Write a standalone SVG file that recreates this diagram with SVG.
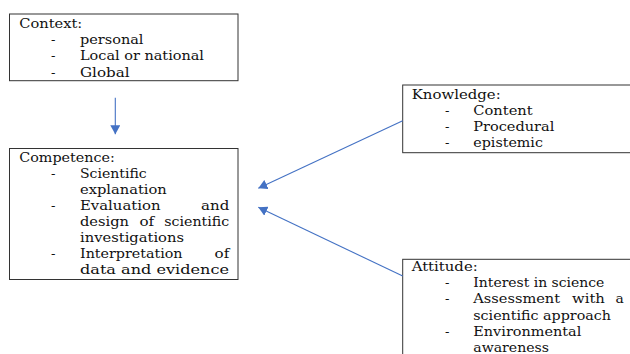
<svg xmlns="http://www.w3.org/2000/svg" width="630" height="354" viewBox="0 0 630 354">
<defs>
<style>
.box{fill:#fff;stroke:#333;stroke-width:1}
.t{font-family:"DejaVu Serif","Liberation Serif",serif;font-size:13px;fill:#111}
.conn{stroke:#4472C4;stroke-width:1.1;fill:none;marker-end:url(#ah)}
</style>
<marker id="ah" viewBox="0 0 9 10" refX="9" refY="5" markerWidth="9" markerHeight="10" markerUnits="userSpaceOnUse" orient="auto">
<path d="M0,0 L9,5 L0,10 z" fill="#4472C4"/>
</marker>
</defs>
<rect width="630" height="354" fill="#fff"/>

<g id="context">
<rect class="box" x="9.5" y="14" width="228.5" height="66.7"/>
<text class="t" x="19.3" y="27.8" textLength="63" lengthAdjust="spacingAndGlyphs">Context:</text>
<text class="t" x="51" y="44.1">-</text>
<text class="t" x="80" y="44.1" textLength="63.5" lengthAdjust="spacingAndGlyphs">personal</text>
<text class="t" x="51" y="60.4">-</text>
<text class="t" x="80" y="60.4" textLength="124" lengthAdjust="spacingAndGlyphs">Local or national</text>
<text class="t" x="51" y="76.7">-</text>
<text class="t" x="80" y="76.7" textLength="49.5" lengthAdjust="spacingAndGlyphs">Global</text>
</g>

<g id="competence">
<rect class="box" x="9.5" y="148.5" width="228.5" height="131"/>
<text class="t" x="19.3" y="161.5" textLength="95.5" lengthAdjust="spacingAndGlyphs">Competence:</text>
<text class="t" x="51" y="177.5">-</text>
<text class="t" x="80" y="177.5" textLength="66.7" lengthAdjust="spacingAndGlyphs">Scientific</text>
<text class="t" x="80" y="193.5" textLength="86.8" lengthAdjust="spacingAndGlyphs">explanation</text>
<text class="t" x="51" y="209.5">-</text>
<text class="t" x="80" y="209.5" textLength="80.5" lengthAdjust="spacingAndGlyphs">Evaluation</text>
<text class="t" x="201.1" y="209.5" textLength="28.2" lengthAdjust="spacingAndGlyphs">and</text>
<text class="t" x="80" y="225.5" textLength="49" lengthAdjust="spacingAndGlyphs">design</text>
<text class="t" x="139.5" y="225.5" textLength="14.7" lengthAdjust="spacingAndGlyphs">of</text>
<text class="t" x="164.3" y="225.5" textLength="65" lengthAdjust="spacingAndGlyphs">scientific</text>
<text class="t" x="80" y="241.5" textLength="104" lengthAdjust="spacingAndGlyphs">investigations</text>
<text class="t" x="51" y="257.5">-</text>
<text class="t" x="80" y="257.5" textLength="102.5" lengthAdjust="spacingAndGlyphs">Interpretation</text>
<text class="t" x="214.6" y="257.5" textLength="14.7" lengthAdjust="spacingAndGlyphs">of</text>
<text class="t" x="80" y="273.5" textLength="149" lengthAdjust="spacingAndGlyphs">data and evidence</text>
</g>

<g id="knowledge">
<rect class="box" x="402.7" y="85" width="240" height="67.7"/>
<text class="t" x="411.7" y="98.5" textLength="89" lengthAdjust="spacingAndGlyphs">Knowledge:</text>
<text class="t" x="445" y="114.5">-</text>
<text class="t" x="473.3" y="114.5" textLength="59.4" lengthAdjust="spacingAndGlyphs">Content</text>
<text class="t" x="445" y="130.5">-</text>
<text class="t" x="473.3" y="130.5" textLength="81" lengthAdjust="spacingAndGlyphs">Procedural</text>
<text class="t" x="445" y="146.5">-</text>
<text class="t" x="473.3" y="146.5" textLength="69.6" lengthAdjust="spacingAndGlyphs">epistemic</text>
</g>

<g id="attitude">
<rect class="box" x="402.7" y="259.3" width="240" height="110"/>
<text class="t" x="411.7" y="270.7" textLength="66" lengthAdjust="spacingAndGlyphs">Attitude:</text>
<text class="t" x="445" y="287">-</text>
<text class="t" x="473.3" y="287" textLength="131" lengthAdjust="spacingAndGlyphs">Interest in science</text>
<text class="t" x="445" y="303.3">-</text>
<text class="t" x="473.3" y="303.3" textLength="86.8" lengthAdjust="spacingAndGlyphs">Assessment</text>
<text class="t" x="572" y="303.3" textLength="32.9" lengthAdjust="spacingAndGlyphs">with</text>
<text class="t" x="615.5" y="303.3" textLength="8.3" lengthAdjust="spacingAndGlyphs">a</text>
<text class="t" x="473.3" y="319.6" textLength="137.6" lengthAdjust="spacingAndGlyphs">scientific approach</text>
<text class="t" x="445" y="335.9">-</text>
<text class="t" x="473.3" y="335.9" textLength="108" lengthAdjust="spacingAndGlyphs">Environmental</text>
<text class="t" x="473.3" y="351.5" textLength="75.7" lengthAdjust="spacingAndGlyphs">awareness</text>
</g>

<g id="connectors">
<line class="conn" x1="115.3" y1="97.7" x2="115.3" y2="134.3"/>
<line class="conn" x1="402.7" y1="120.7" x2="258.3" y2="188.3"/>
<line class="conn" x1="402.7" y1="276" x2="258.3" y2="207.3"/>
</g>
</svg>
